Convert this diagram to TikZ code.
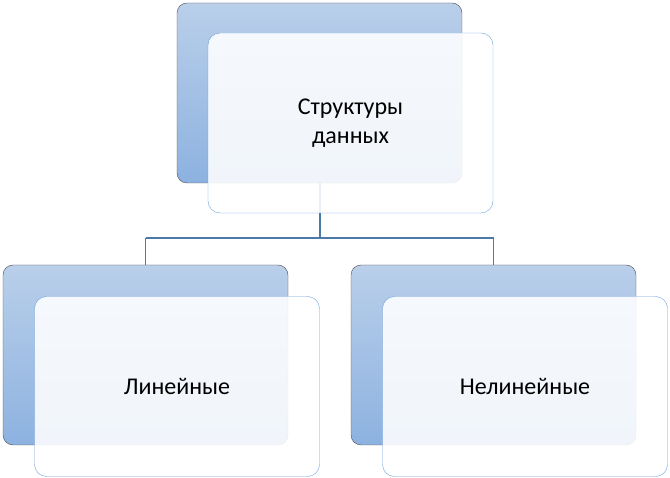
\documentclass[tikz,border=0pt]{standalone}
\usepackage{fontspec}
\setmainfont{Carlito}
\usepackage{tikz}
\usetikzlibrary{positioning}

\definecolor{backtop}{HTML}{B9CFEA}
\definecolor{backbot}{HTML}{8DB2E0}
\definecolor{frontline}{HTML}{6FA0DC}
\definecolor{linkcol}{HTML}{4A7BA8}

\tikzset{
  backbox/.style={rectangle, rounded corners=10pt, draw=black!70, top color=backtop, bottom color=backbot,
    minimum width=285pt, minimum height=180pt, inner sep=0pt},
  frontbox/.style={rectangle, rounded corners=12pt, draw=frontline, fill=white, fill opacity=0.88,
    text opacity=1, minimum width=285pt, minimum height=180pt, inner sep=0pt, align=center,
    font=\fontsize{24}{29}\selectfont},
  link/.style={draw=linkcol, line width=1.2pt}
}

\begin{document}
\begin{tikzpicture}[x=1pt,y=-1pt]
\useasboundingbox (0,0) rectangle (670,478);

\node[backbox] (rootback) at (319.5,93) {};
\node[backbox] (linback) at (145.5,355) {};
\node[backbox] (nlinback) at (493.5,355) {};

\coordinate (fork) at (320,238);
\draw[link] (rootback.south -| fork) -- (fork);
\draw[link] (fork -| linback.north) -- (fork -| nlinback.north);
\draw[link] (fork -| linback.north) -- (linback.north);
\draw[link] (fork -| nlinback.north) -- (nlinback.north);

\node[frontbox] (root) at (350.5,123) {Структуры\\данных};
\node[frontbox] (lin) at (177,386.5) {Линейные};
\node[frontbox] (nlin) at (525,386.5) {Нелинейные};
\end{tikzpicture}
\end{document}
